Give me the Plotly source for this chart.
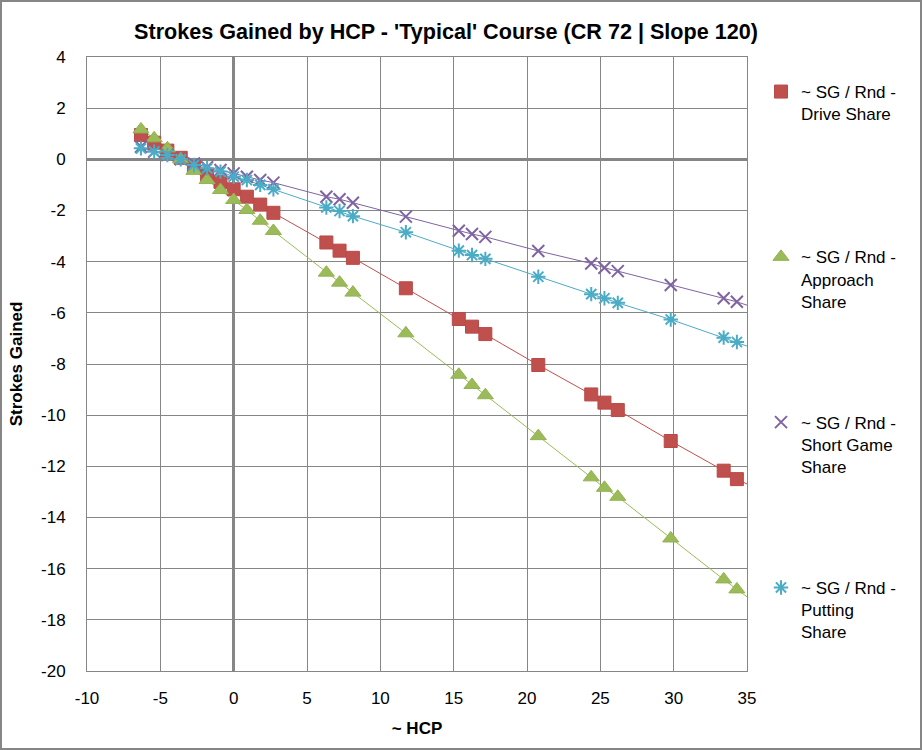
import plotly.graph_objects as go

hcp = [-6.32, -5.42, -4.52, -3.61, -2.71, -1.81, -0.9, 0.0, 0.9, 1.81, 2.71,
       6.32, 7.22, 8.13, 11.74, 15.35, 16.25, 17.16, 20.77, 24.38, 25.28,
       26.19, 29.8, 33.41, 34.31]

drive = [0.95, 0.65, 0.34, 0.06, -0.29, -0.61, -0.88, -1.17, -1.46, -1.77, -2.09,
         -3.25, -3.57, -3.85, -5.04, -6.24, -6.54, -6.83, -8.04, -9.19, -9.51,
         -9.80, -11.01, -12.17, -12.50]
approach = [1.17, 0.82, 0.43, 0.0, -0.45, -0.81, -1.20, -1.59, -1.98, -2.40, -2.80,
            -4.43, -4.82, -5.21, -6.80, -8.42, -8.82, -9.22, -10.82, -12.43, -12.84,
            -13.19, -14.82, -16.42, -16.81]
short_game = [0.49, 0.30, 0.17, 0.0, -0.16, -0.31, -0.42, -0.55, -0.68, -0.81, -0.91,
              -1.46, -1.56, -1.70, -2.24, -2.79, -2.92, -3.03, -3.58, -4.07, -4.24,
              -4.37, -4.91, -5.43, -5.57]
putting = [0.43, 0.30, 0.17, 0.0, -0.22, -0.35, -0.48, -0.68, -0.81, -1.0, -1.17,
           -1.88, -2.02, -2.22, -2.85, -3.57, -3.74, -3.89, -4.59, -5.27, -5.43,
           -5.61, -6.26, -6.97, -7.14]

# trend line continuation to the right edge of the chart
trend_end_x = 35
trend_end = {"drive": -12.69, "approach": -17.1, "short": -5.70, "putting": -7.30}

x_ticks = [-10, -5, 0, 5, 10, 15, 20, 25, 30, 35]
y_ticks = [-20, -18, -16, -14, -12, -10, -8, -6, -4, -2, 0, 2, 4]

series = [
    ("~ SG / Rnd -<br>Drive Share<br> ", drive, "drive", "#C0504D",
     dict(symbol="square", size=13, color="#C0504D", line=dict(width=1, color="#B84A47"))),
    ("~ SG / Rnd -<br>Approach<br>Share", approach, "approach", "#9BBB59",
     dict(symbol="triangle-up", size=14, color="#9BBB59", line=dict(width=1, color="#93B252"))),
    ("~ SG / Rnd -<br>Short Game<br>Share", short_game, "short", "#8064A2",
     dict(symbol="x-thin-open", size=12, color="#8064A2", line=dict(width=2, color="#8064A2"))),
    ("~ SG / Rnd -<br>Putting<br>Share", putting, "putting", "#4BACC6",
     dict(symbol="asterisk-open", size=12, color="#4BACC6", line=dict(width=2, color="#4BACC6"))),
]

fig = go.Figure()
for i, (name, ys, key, col, mk) in enumerate(series):
    fig.add_trace(go.Scatter(
        x=hcp + [trend_end_x], y=ys + [trend_end[key]], mode="lines",
        line=dict(color=col, width=1), showlegend=False, hoverinfo="skip"))
for i, (name, ys, key, col, mk) in enumerate(series):
    fig.add_trace(go.Scatter(
        x=hcp, y=ys, mode="markers", name=name, marker=mk,
        legendgroup=key))

grid = "#868686"
fig.update_layout(
    width=922, height=750,
    paper_bgcolor="white", plot_bgcolor="white",
    margin=dict(l=87, r=175, t=57, b=79),
    font=dict(family="Liberation Sans, Arial, sans-serif", size=17, color="black"),
    title=dict(text="<b>Strokes Gained by HCP - 'Typical' Course (CR 72 | Slope 120)</b>",
               x=446 / 922, xanchor="center", xref="container",
               y=1 - 31 / 750, yanchor="middle", yref="container",
               font=dict(size=21.6)),
    xaxis=dict(range=[-10, 35], tickvals=x_ticks, ticktext=[str(v) for v in x_ticks],
               showgrid=True, gridcolor=grid, gridwidth=1,
               zeroline=True, zerolinecolor=grid, zerolinewidth=3,
               showline=True, linecolor=grid, linewidth=1, mirror=True,
               ticks="", ticklabelstandoff=12, automargin=False,
               title=dict(text="<b>~ HCP</b>", standoff=14, font=dict(size=17))),
    yaxis=dict(range=[-20, 4], tickvals=y_ticks, ticktext=[str(v) for v in y_ticks],
               showgrid=True, gridcolor=grid, gridwidth=1,
               zeroline=True, zerolinecolor=grid, zerolinewidth=3,
               showline=True, linecolor=grid, linewidth=1, mirror=True,
               ticks="", ticklabelstandoff=17, automargin=False,
               title=dict(text="<b>Strokes Gained</b>", standoff=14, font=dict(size=17))),
    legend=dict(x=(761 - 87) / 660, xanchor="left", y=1 - (74 - 57) / 614, yanchor="top",
                valign="top", tracegroupgap=96, bgcolor="rgba(0,0,0,0)",
                font=dict(size=17)),
    shapes=[dict(type="rect", xref="paper", yref="paper",
                 x0=-86 / 660, x1=1 + 174 / 660, y0=-78 / 614, y1=1 + 56 / 614,
                 line=dict(color=grid, width=2), fillcolor="rgba(0,0,0,0)", layer="below")],
)

fig.write_html("out.html", config={"displayModeBar": False},
               post_script="document.body.style.margin='0';")
